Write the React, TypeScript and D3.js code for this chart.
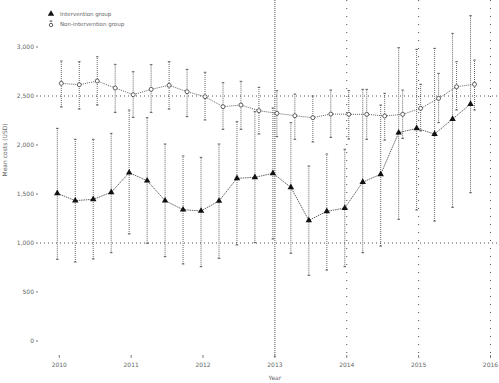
import React from "react";
import * as d3 from "d3";

const years = [2010, 2011, 2012, 2013, 2014, 2015, 2016];
const yTicks = [0, 500, 1000, 1500, 2000, 2500, 3000];
const quarters = d3.range(24).map((k) => 2010 + k / 4);

const interventionMean = [1507, 1432, 1446, 1517, 1717, 1636, 1432, 1340, 1327, 1429, 1660, 1670, 1711, 1568, 1231, 1323, 1357, 1622, 1701, 2126, 2170, 2112, 2265, 2418];
const interventionHigh = [2170, 2058, 2058, 2119, 2357, 2279, 2010, 1888, 1874, 2010, 2238, 2340, 2378, 2228, 1786, 1908, 1956, 2568, 2408, 2993, 2976, 2986, 3139, 3319];
const interventionLow = [834, 806, 837, 901, 1092, 997, 860, 786, 758, 844, 980, 1003, 1041, 895, 670, 724, 758, 901, 969, 1242, 1337, 1224, 1364, 1513];

const controlMean = [2629, 2615, 2653, 2582, 2513, 2568, 2609, 2544, 2493, 2391, 2408, 2350, 2323, 2299, 2279, 2316, 2313, 2313, 2296, 2313, 2374, 2476, 2595, 2619];
const controlHigh = [2857, 2850, 2900, 2823, 2748, 2820, 2850, 2772, 2742, 2636, 2650, 2589, 2554, 2520, 2500, 2561, 2554, 2568, 2527, 2561, 2619, 2731, 2850, 2867];
const controlLow = [2388, 2367, 2408, 2333, 2282, 2333, 2367, 2289, 2255, 2160, 2160, 2112, 2085, 2058, 2031, 2078, 2061, 2058, 2050, 2068, 2143, 2228, 2357, 2357];

const legendLabels = ["Intervention group", "Non-intervention group"];
const yTitle = "Mean costs (USD)";
const xTitle = "Year";

export default function App() {
  const W = 499, H = 383;
  const x = d3.scaleLinear().domain([2010, 2016]).range([59.3, 490.5]);
  const y = d3.scaleLinear().domain([0, 3000]).range([341, 47]);
  const ink = "#222";
  const txt = "#666";
  const font = "DejaVu Sans, sans-serif";

  const triX = (k: number) => x(quarters[k]) - 2;
  const cirX = (k: number) => x(quarters[k]) + 2;

  const triLine = d3.line<number>().x((_, k) => triX(k)).y((v) => y(v))(interventionMean) || "";
  const cirLine = d3.line<number>().x((_, k) => cirX(k)).y((v) => y(v))(controlMean) || "";
  const tri = d3.symbol().type(d3.symbolTriangle).size(18)() || "";

  const errBar = (cx: number, lo: number, hi: number, key: string) => (
    <g key={key} stroke={ink} strokeWidth={0.7} fill="none">
      <line x1={cx} x2={cx} y1={y(lo)} y2={y(hi)} strokeDasharray="1,1" />
      <line x1={cx - 1.3} x2={cx + 1.3} y1={y(lo)} y2={y(lo)} />
      <line x1={cx - 1.3} x2={cx + 1.3} y1={y(hi)} y2={y(hi)} />
    </g>
  );

  return (
    <svg width={W} height={H} style={{ position: "absolute", left: 0, top: 0, background: "#fff" }}>
      {[2500, 1000].map((v) => (
        <line key={"h" + v} x1={40} x2={W} y1={y(v)} y2={y(v)} stroke={ink} strokeWidth={0.8} strokeDasharray="1,3" />
      ))}
      {[2014, 2015, 2016].map((v) => (
        <line key={"v" + v} x1={x(v)} x2={x(v)} y1={0} y2={357} stroke={ink} strokeWidth={0.8} strokeDasharray="1,7" />
      ))}
      <line x1={x(2013)} x2={x(2013)} y1={0} y2={358} stroke={ink} strokeWidth={0.8} strokeDasharray="1,1" />

      {yTicks.map((v) => (
        <g key={"yt" + v}>
          <line x1={36} x2={38} y1={y(v)} y2={y(v)} stroke={ink} strokeWidth={0.6} />
          <text x={34} y={y(v)} dy="0.35em" textAnchor="end" fontSize={6} fontFamily={font} fill={txt}>
            {d3.format(",")(v)}
          </text>
        </g>
      ))}
      {years.map((v) => (
        <g key={"xt" + v}>
          <line x1={x(v)} x2={x(v)} y1={355} y2={358} stroke={ink} strokeWidth={0.6} />
          <text x={x(v)} y={367} textAnchor="middle" fontSize={6} fontFamily={font} fill={txt}>
            {v}
          </text>
        </g>
      ))}
      <text x={x(2013)} y={380} textAnchor="middle" fontSize={6} fontFamily={font} fill={txt}>{xTitle}</text>
      <text transform={`translate(7,${y(1950)}) rotate(-90)`} textAnchor="middle" fontSize={6} fontFamily={font} fill={txt}>{yTitle}</text>

      {controlMean.map((_, k) => errBar(cirX(k), controlLow[k], controlHigh[k], "ce" + k))}
      {interventionMean.map((_, k) => errBar(triX(k), interventionLow[k], interventionHigh[k], "te" + k))}

      <path d={cirLine} fill="none" stroke={ink} strokeWidth={0.7} strokeDasharray="1,1" />
      <path d={triLine} fill="none" stroke={ink} strokeWidth={0.7} strokeDasharray="1.5,0.8" />

      {controlMean.map((v, k) => (
        <circle key={"c" + k} cx={cirX(k)} cy={y(v)} r={2} fill="#fff" stroke={ink} strokeWidth={0.7} />
      ))}
      {interventionMean.map((v, k) => (
        <path key={"t" + k} d={tri} transform={`translate(${triX(k)},${y(v)})`} fill="#111" />
      ))}

      <path d={tri} transform="translate(51,14)" fill="#111" />
      <text x={60} y={14} dy="0.35em" fontSize={5.5} fontFamily={font} fill={txt}>{legendLabels[0]}</text>
      <g stroke={ink} strokeWidth={0.7} fill="none">
        <line x1={51} x2={51} y1={21} y2={25} strokeDasharray="1,1" />
        <line x1={49.7} x2={52.3} y1={21} y2={21} />
        <circle cx={51} cy={25} r={1.7} fill="#fff" />
      </g>
      <text x={60} y={24.5} dy="0.35em" fontSize={5.5} fontFamily={font} fill={txt}>{legendLabels[1]}</text>
    </svg>
  );
}
